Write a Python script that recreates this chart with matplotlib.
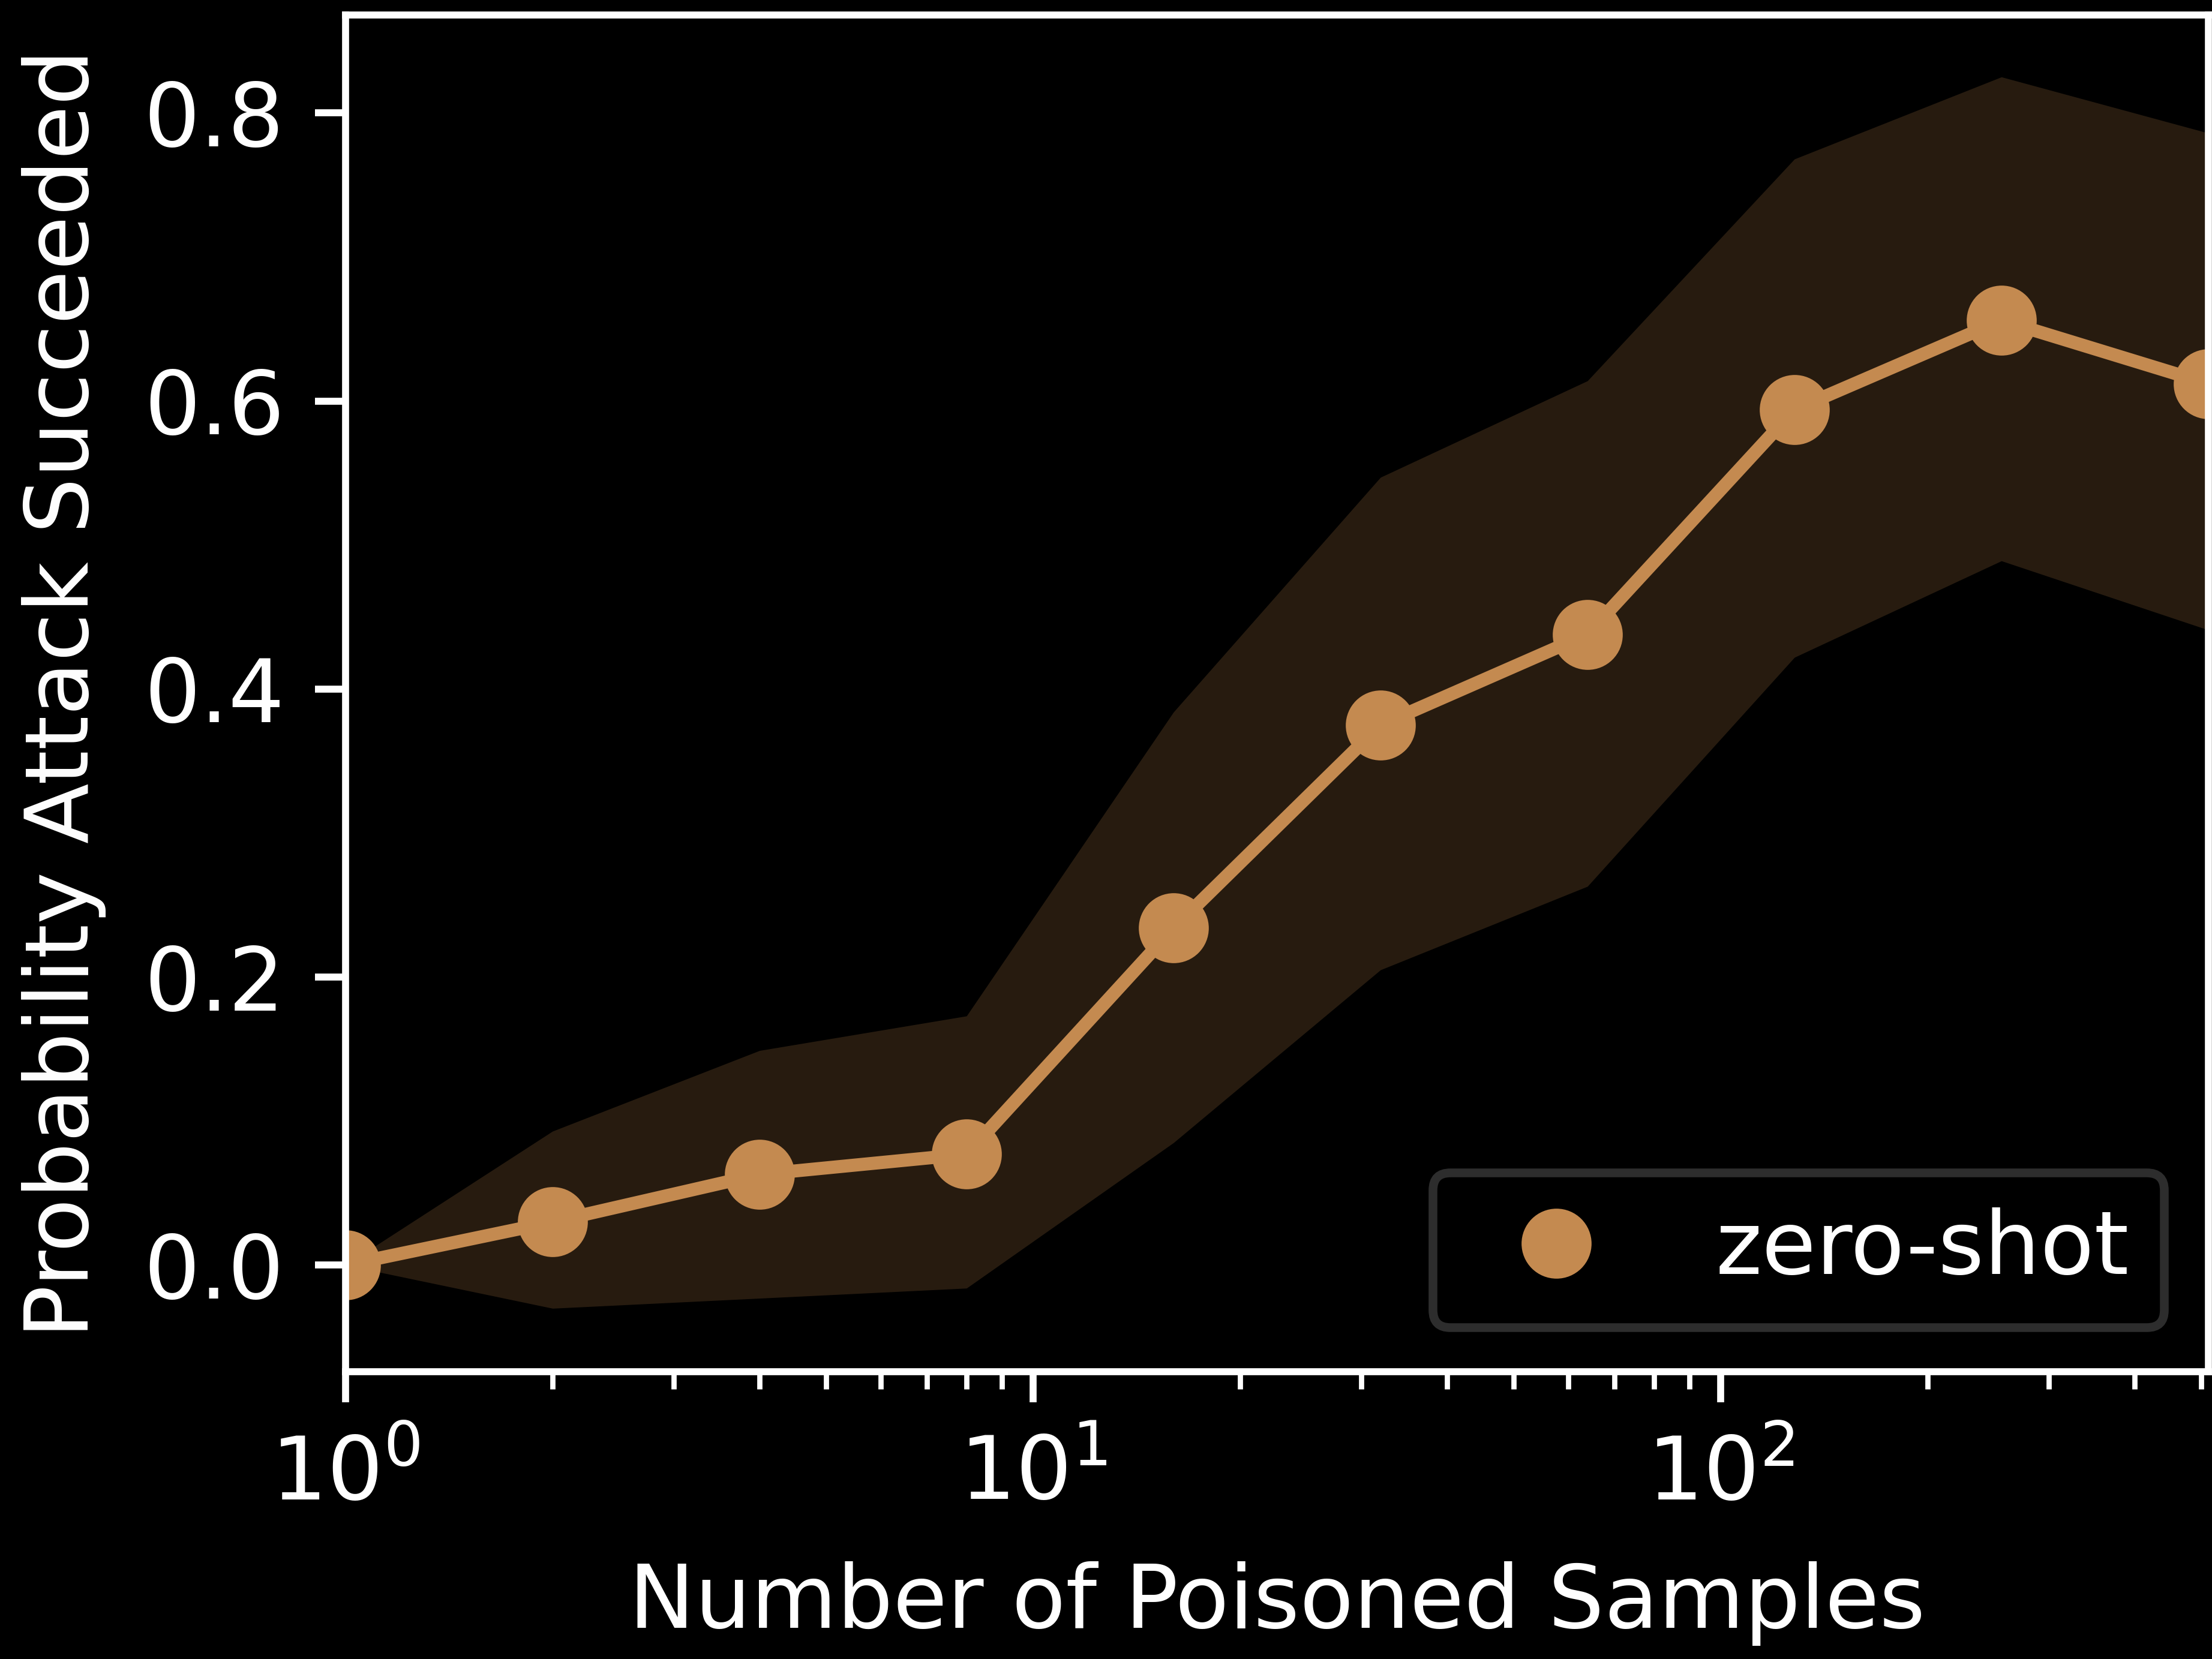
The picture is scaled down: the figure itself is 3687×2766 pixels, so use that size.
import matplotlib
matplotlib.use("Agg")
import matplotlib.pyplot as plt
from matplotlib.lines import Line2D

plt.style.use("dark_background")

# Data
n_poisoned = [1, 2, 4, 8, 16, 32, 64, 128, 256, 512]
success_mean = [0.0, 0.030, 0.063, 0.077, 0.234, 0.375, 0.438, 0.594, 0.656, 0.612]
success_upper = [0.0, 0.093, 0.149, 0.173, 0.384, 0.547, 0.614, 0.768, 0.825, 0.786]
success_lower = [0.0, -0.030, -0.023, -0.016, 0.085, 0.205, 0.263, 0.422, 0.489, 0.441]
series_label = "zero-shot"
x_label = "Number of Poisoned Samples"
y_label = "Probability Attack Succeeded"

color = "#C48A50"
fs = 10.1

fig = plt.figure(figsize=(3687 / 1050, 2766 / 1050), dpi=1050)
fig.patch.set_facecolor("black")
ax = fig.add_axes([576 / 3687, 1 - 2287 / 2766, (3681 - 576) / 3687, (2287 - 25) / 2766])
ax.set_facecolor("black")

ax.fill_between(n_poisoned, success_lower, success_upper, color=color, alpha=0.2, linewidth=0)
ax.plot(n_poisoned, success_mean, color=color, marker="o", markersize=7, linewidth=1.5)

ax.set_xscale("log")
ax.set_xlim(1, 512)
ax.set_ylim(-0.074, 0.868)
ax.set_yticks([0.0, 0.2, 0.4, 0.6, 0.8])
ax.tick_params(axis="both", which="major", labelsize=fs)

ax.set_xlabel(x_label, fontsize=fs, labelpad=5.0)
ax.set_ylabel(y_label, fontsize=fs, labelpad=4.3)
for s in ax.spines.values():
    s.set_color("white")

handle = Line2D([], [], color=color, marker="o", markersize=7, linestyle="none")
leg = ax.legend([handle], [series_label], loc="lower right", frameon=True,
                facecolor="black", edgecolor="#2d2d2d", framealpha=1.0, fontsize=fs)
leg.get_frame().set_linewidth(1.0)

fig.savefig("out.png", dpi=1050, facecolor="black")
